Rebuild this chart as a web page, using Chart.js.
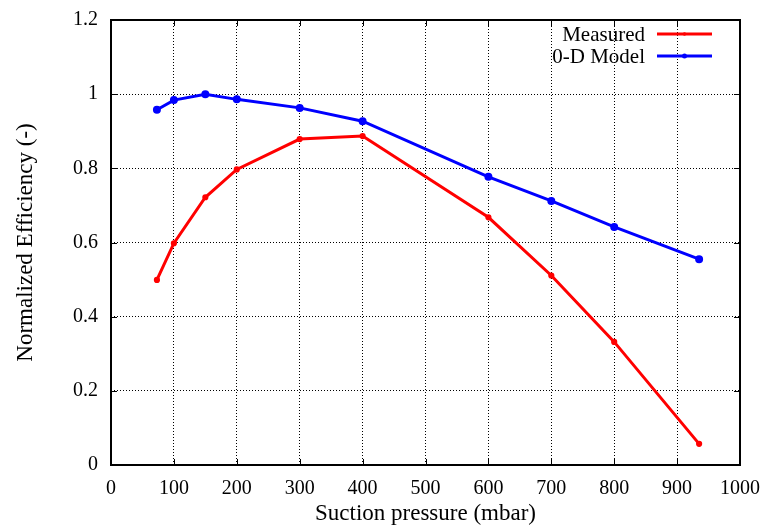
<!DOCTYPE html>
<html lang="en">
<head>
<meta charset="UTF-8">
<title>Normalized Efficiency vs Suction pressure</title>
<script src="https://cdn.jsdelivr.net/npm/chart.js"></script>
<style>
  html, body { margin: 0; padding: 0; background: #fff; }
  #wrap { width: 763px; height: 528px; position: relative; }
</style>
</head>
<body>
<div id="wrap"><canvas id="effChart"></canvas></div>
<script>
// data
const pressure = [73, 100, 150, 200, 300, 400, 600, 700, 800, 935];
const measured = [0.499, 0.598, 0.722, 0.797, 0.879, 0.887, 0.668, 0.511, 0.332, 0.057];
const model = [0.958, 0.984, 1.0, 0.986, 0.963, 0.927, 0.777, 0.712, 0.642, 0.555];
const seriesNames = ["Measured", "0-D Model"];
const seriesColors = ["#ff0000", "#0000ff"];

const FONT = "'Liberation Serif', 'DejaVu Serif', serif";

// gnuplot style frame with inward ticks + legend in the top right corner
const framePlugin = {
  id: "frame",
  afterDraw(chart) {
    const { ctx, chartArea: a, scales } = chart;
    ctx.save();
    ctx.strokeStyle = "#000";
    ctx.lineWidth = 2;
    ctx.strokeRect(a.left, a.top, a.right - a.left, a.bottom - a.top);
    ctx.lineWidth = 1;
    ctx.beginPath();
    scales.x.ticks.forEach(t => {
      const px = Math.round(scales.x.getPixelForValue(t.value)) + 0.5;
      ctx.moveTo(px, a.bottom); ctx.lineTo(px, a.bottom - 6);
      ctx.moveTo(px, a.top); ctx.lineTo(px, a.top + 6);
    });
    scales.y.ticks.forEach(t => {
      const py = Math.round(scales.y.getPixelForValue(t.value)) + 0.5;
      ctx.moveTo(a.left, py); ctx.lineTo(a.left + 6, py);
      ctx.moveTo(a.right, py); ctx.lineTo(a.right - 6, py);
    });
    ctx.stroke();

    // legend
    ctx.font = "21px " + FONT;
    ctx.textAlign = "right";
    ctx.textBaseline = "middle";
    chart.data.datasets.forEach((ds, i) => {
      const y = a.top + 14 + i * 22;
      const xLineEnd = a.right - 28;
      const xLineStart = xLineEnd - 55;
      ctx.fillStyle = "#000";
      ctx.fillText(ds.label, xLineStart - 12, y + 1);
      ctx.strokeStyle = ds.borderColor;
      ctx.lineWidth = 2.8;
      ctx.beginPath();
      ctx.moveTo(xLineStart, y); ctx.lineTo(xLineEnd, y);
      ctx.stroke();
      ctx.fillStyle = ds.borderColor;
      ctx.beginPath();
      ctx.arc((xLineStart + xLineEnd) / 2, y, i ? 2.5 : 1.8, 0, Math.PI * 2);
      ctx.fill();
    });
    ctx.restore();
  }
};

const gridStyle = {
  color: "#000",
  lineWidth: 1,
  drawTicks: false
};

new Chart(document.getElementById("effChart"), {
  type: "line",
  data: {
    datasets: [
      {
        label: seriesNames[0],
        data: pressure.map((p, i) => ({ x: p, y: measured[i] })),
        borderColor: seriesColors[0],
        backgroundColor: seriesColors[0],
        borderWidth: 3,
        pointRadius: 1.6,
        pointHoverRadius: 1.6,
        tension: 0
      },
      {
        label: seriesNames[1],
        data: pressure.map((p, i) => ({ x: p, y: model[i] })),
        borderColor: seriesColors[1],
        backgroundColor: seriesColors[1],
        borderWidth: 3,
        pointRadius: 2.5,
        pointHoverRadius: 2.5,
        tension: 0
      }
    ]
  },
  options: {
    responsive: true,
    maintainAspectRatio: false,
    animation: false,
    layout: { padding: { left: 0, top: 20, right: 23, bottom: 0 } },
    plugins: {
      legend: { display: false },
      tooltip: { enabled: false }
    },
    scales: {
      x: {
        type: "linear",
        min: 0,
        max: 1000,
        ticks: {
          stepSize: 100,
          color: "#000",
          padding: 12,
          font: { family: FONT, size: 20 },
          callback: v => String(v)
        },
        grid: gridStyle,
        border: { display: false, dash: [1, 2] },
        title: {
          display: true,
          text: "Suction pressure (mbar)",
          color: "#000",
          font: { family: FONT, size: 23 },
          padding: { top: 2, bottom: 0 }
        },
        afterFit(s) {
          s.height = 63;
          s.paddingLeft = 0; s.paddingRight = 0;
        }
      },
      y: {
        min: 0,
        max: 1.2,
        ticks: {
          stepSize: 0.2,
          color: "#000",
          padding: 13,
          font: { family: FONT, size: 20 },
          callback: v => String(Math.round(v * 10) / 10)
        },
        grid: gridStyle,
        border: { display: false, dash: [1, 2] },
        title: {
          display: true,
          text: "Normalized Efficiency (-)",
          color: "#000",
          font: { family: FONT, size: 23 },
          padding: { top: 12, bottom: 4 }
        },
        afterFit(s) {
          s.width = 111;
          s.paddingTop = 0; s.paddingBottom = 0;
        }
      }
    }
  },
  plugins: [framePlugin]
});
</script>
</body>
</html>
